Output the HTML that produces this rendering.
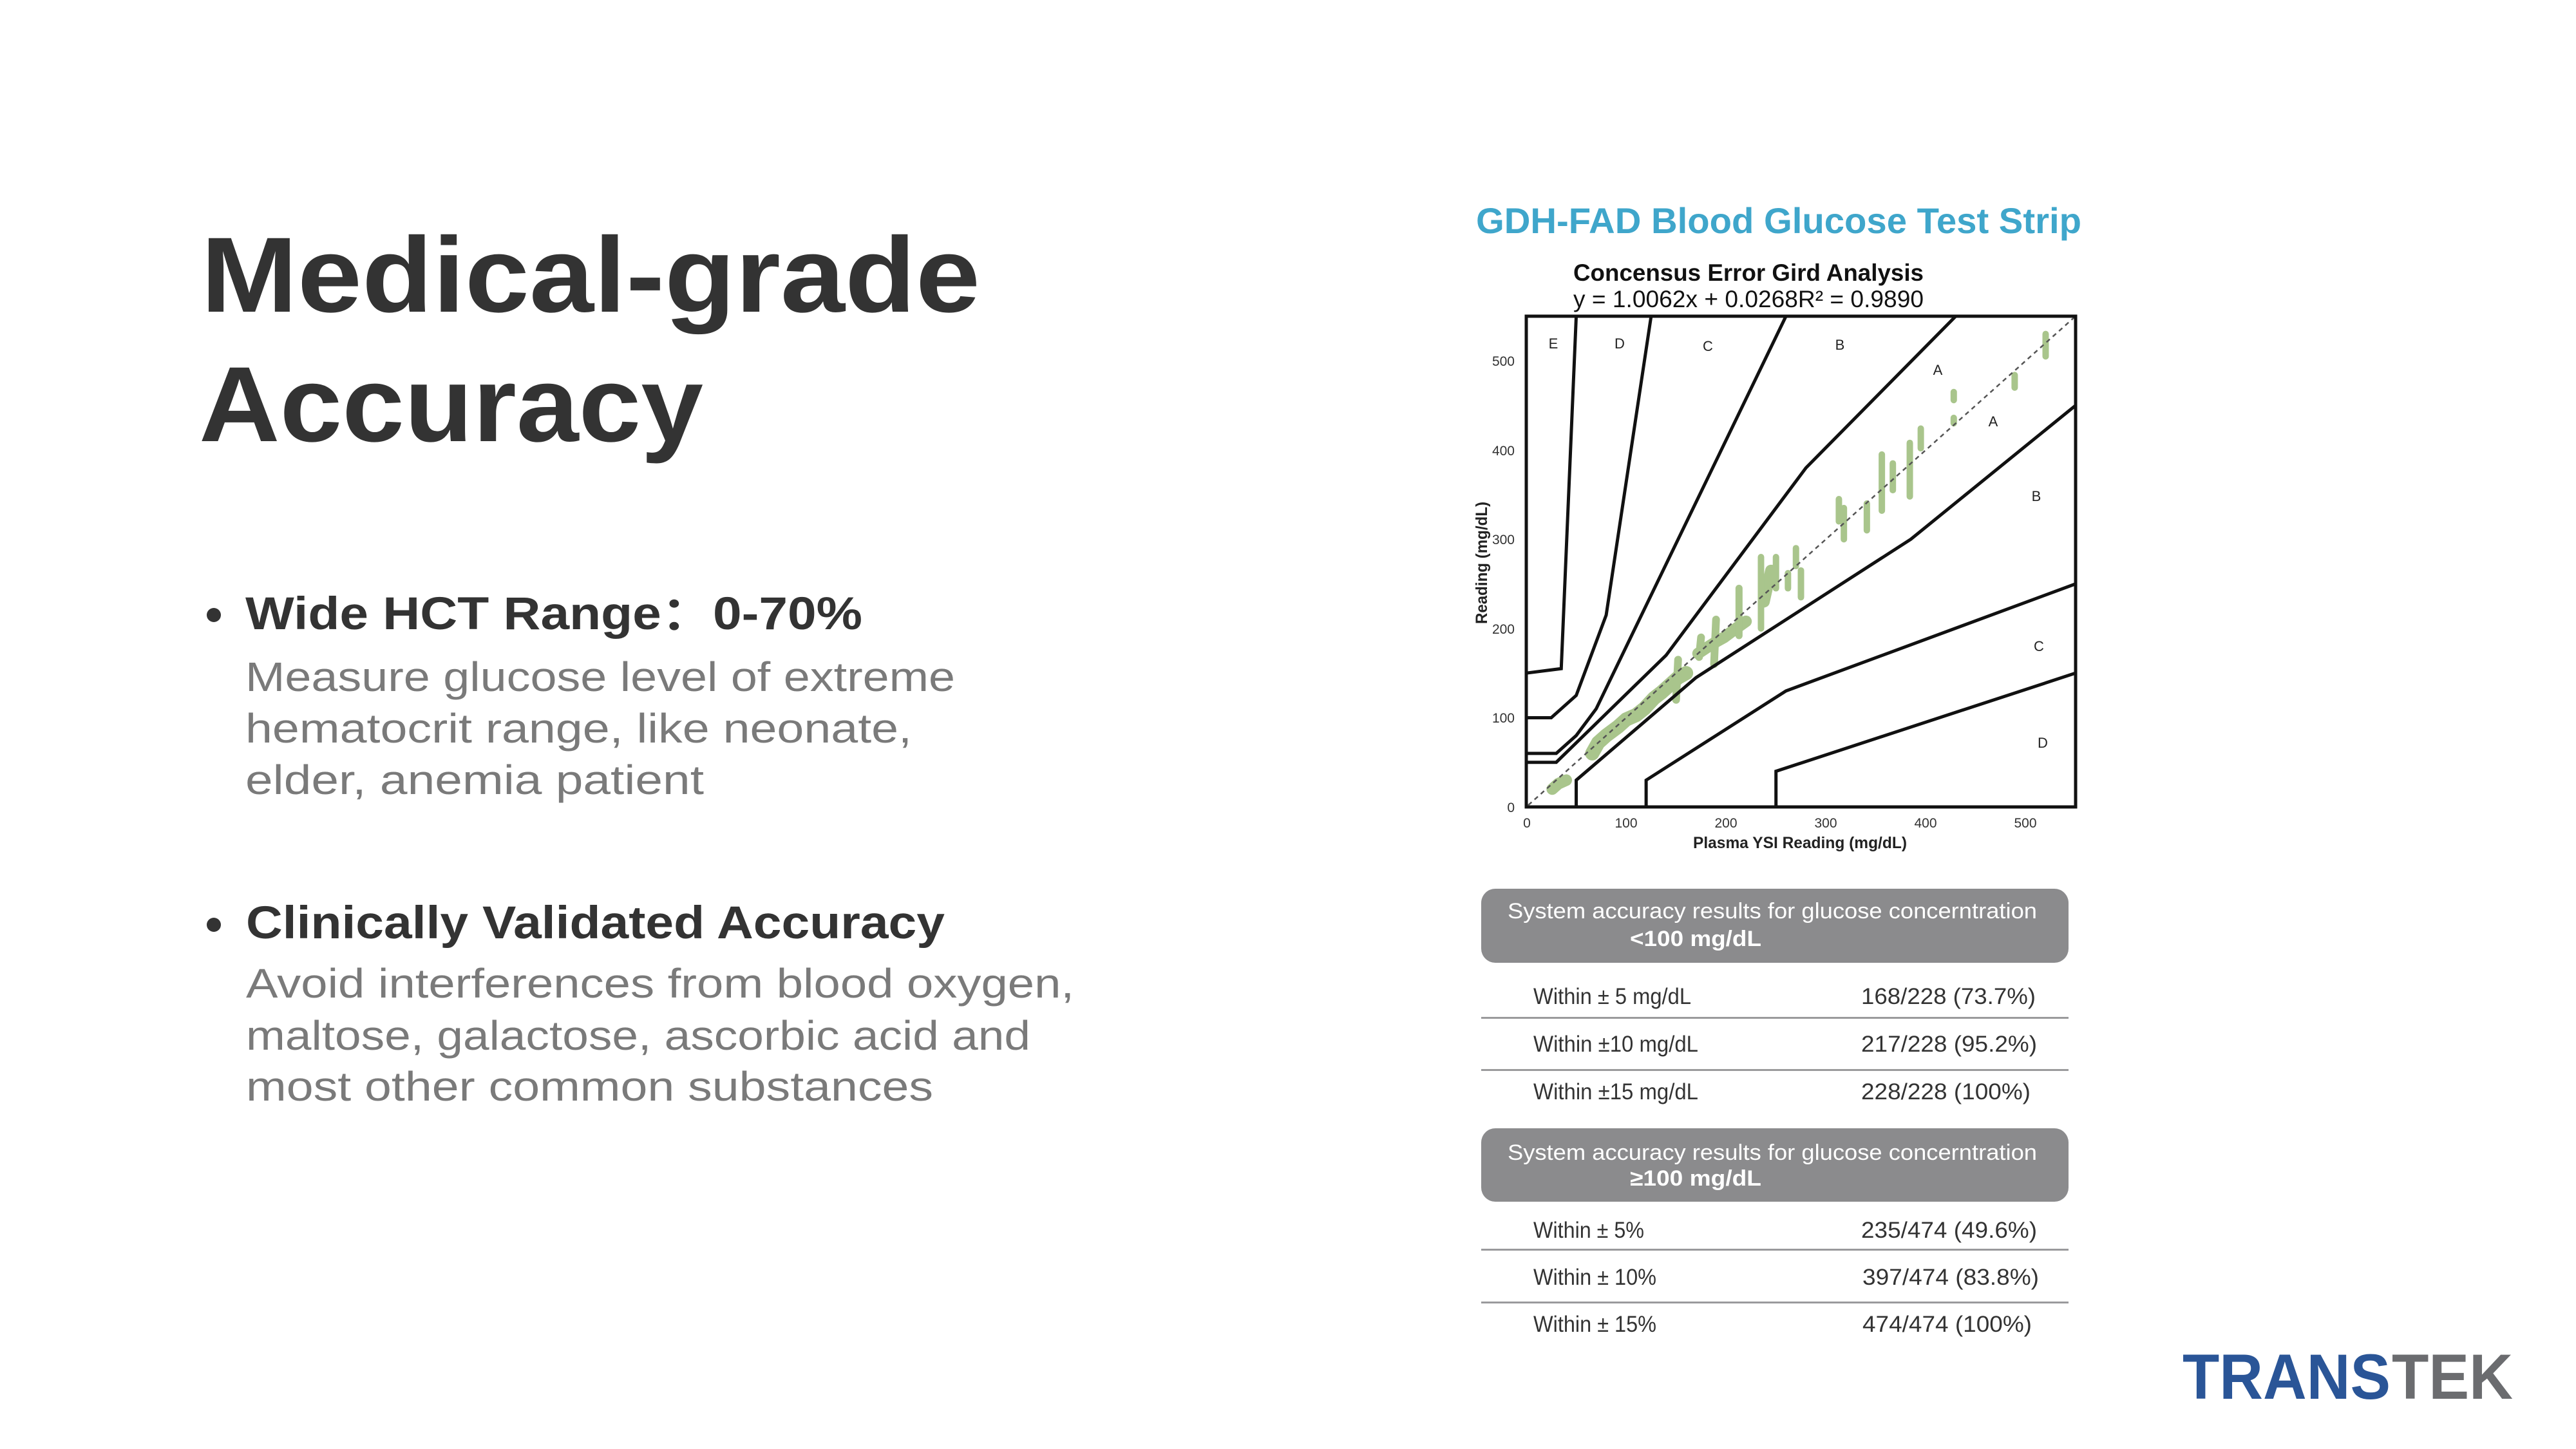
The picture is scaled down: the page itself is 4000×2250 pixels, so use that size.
<!DOCTYPE html>
<html><head><meta charset="utf-8"><style>
html,body{margin:0;padding:0;background:#fff;}
svg{display:block;}
text{font-family:"Liberation Sans",sans-serif;}
</style></head><body>
<svg width="4000" height="2250" viewBox="0 0 4000 2250" xmlns="http://www.w3.org/2000/svg">
<rect width="4000" height="2250" fill="#fff"/>
<text x="312" y="484" font-size="166" font-weight="bold" fill="#333" textLength="1210" lengthAdjust="spacingAndGlyphs">Medical-grade</text>
<text x="309" y="685" font-size="166" font-weight="bold" fill="#333" textLength="783" lengthAdjust="spacingAndGlyphs">Accuracy</text>
<circle cx="332" cy="955" r="11" fill="#333"/>
<text x="381" y="977" font-size="71" font-weight="bold" fill="#333" textLength="958" lengthAdjust="spacingAndGlyphs">Wide HCT Range：0-70%</text>
<text x="381" y="1073" font-size="64" fill="#7a7a7a" textLength="1102" lengthAdjust="spacingAndGlyphs">Measure glucose level of extreme</text>
<text x="381" y="1153" font-size="64" fill="#7a7a7a" textLength="1035" lengthAdjust="spacingAndGlyphs">hematocrit range, like neonate,</text>
<text x="381" y="1233" font-size="64" fill="#7a7a7a" textLength="712" lengthAdjust="spacingAndGlyphs">elder, anemia patient</text>
<circle cx="332" cy="1436" r="11" fill="#333"/>
<text x="382" y="1457" font-size="71" font-weight="bold" fill="#333" textLength="1085" lengthAdjust="spacingAndGlyphs">Clinically Validated Accuracy</text>
<text x="382" y="1549" font-size="64" fill="#7a7a7a" textLength="1286" lengthAdjust="spacingAndGlyphs">Avoid interferences from blood oxygen,</text>
<text x="382" y="1630" font-size="64" fill="#7a7a7a" textLength="1218" lengthAdjust="spacingAndGlyphs">maltose, galactose, ascorbic acid and</text>
<text x="382" y="1709" font-size="64" fill="#7a7a7a" textLength="1067" lengthAdjust="spacingAndGlyphs">most other common substances</text>

<text x="2292" y="362" font-size="56" font-weight="bold" fill="#3fa6cb" textLength="940" lengthAdjust="spacingAndGlyphs">GDH-FAD Blood Glucose Test Strip</text>
<text x="2443" y="436" font-size="37" font-weight="bold" fill="#111" textLength="544" lengthAdjust="spacingAndGlyphs">Concensus Error Gird Analysis</text>
<text x="2443" y="477" font-size="37" fill="#111" textLength="544" lengthAdjust="spacingAndGlyphs">y = 1.0062x + 0.0268R² = 0.9890</text>

<g transform="translate(2370,1253) scale(1.5509,-1.3855)">
  <g fill="none" stroke="#a9c58c" stroke-linecap="round" stroke-linejoin="round">
    <polyline vector-effect="non-scaling-stroke" stroke-width="18" points="26,20 32,26 40,30"/>
    <polyline vector-effect="non-scaling-stroke" stroke-width="22" points="66,60 72,72 80,80 92,90 100,98 110,103 118,110 128,122 135,128 145,138 152,145 160,150"/>
    <polyline vector-effect="non-scaling-stroke" stroke-width="18" points="172,172 180,178 190,185 198,190 210,200 220,208"/>
    <polyline vector-effect="non-scaling-stroke" stroke-width="12" points="150,120 152,165"/>
    <polyline vector-effect="non-scaling-stroke" stroke-width="12" points="188,160 190,210"/>
    <polyline vector-effect="non-scaling-stroke" stroke-width="12" points="173,168 175,190"/>
    <polyline vector-effect="non-scaling-stroke" stroke-width="11" points="213,192 213,245"/>
    <polyline vector-effect="non-scaling-stroke" stroke-width="18" points="238,230 245,265"/>
    <polyline vector-effect="non-scaling-stroke" stroke-width="10" points="235,200 235,280"/>
    <polyline vector-effect="non-scaling-stroke" stroke-width="10" points="250,245 250,280"/>
    <polyline vector-effect="non-scaling-stroke" stroke-width="10" points="262,245 262,262"/>
    <polyline vector-effect="non-scaling-stroke" stroke-width="10" points="270,270 270,290"/>
    <polyline vector-effect="non-scaling-stroke" stroke-width="10" points="275,235 275,265"/>
    <polyline vector-effect="non-scaling-stroke" stroke-width="10" points="313,320 313,345"/>
    <polyline vector-effect="non-scaling-stroke" stroke-width="10" points="318,300 318,335"/>
    <polyline vector-effect="non-scaling-stroke" stroke-width="10" points="341,310 341,340"/>
    <polyline vector-effect="non-scaling-stroke" stroke-width="10" points="356,332 356,395"/>
    <polyline vector-effect="non-scaling-stroke" stroke-width="10" points="367,355 367,385"/>
    <polyline vector-effect="non-scaling-stroke" stroke-width="10" points="384,348 384,408"/>
    <polyline vector-effect="non-scaling-stroke" stroke-width="10" points="395,402 395,424"/>
    <polyline vector-effect="non-scaling-stroke" stroke-width="10" points="428,430 428,436"/>
    <polyline vector-effect="non-scaling-stroke" stroke-width="10" points="428,456 428,465"/>
    <polyline vector-effect="non-scaling-stroke" stroke-width="10" points="489,470 489,484"/>
    <polyline vector-effect="non-scaling-stroke" stroke-width="10" points="520,505 520,530"/>
  </g>
  <line x1="2" y1="2" x2="550" y2="550" stroke="#555" stroke-width="2.5" stroke-dasharray="7,6" vector-effect="non-scaling-stroke"/>
  <g fill="none" stroke="#111" stroke-width="5" stroke-linejoin="miter">
    <polyline vector-effect="non-scaling-stroke" points="0,50 30,50 140,170 280,380 430,550"/>
    <polyline vector-effect="non-scaling-stroke" points="50,0 50,30 170,145 385,300 550,450"/>
    <polyline vector-effect="non-scaling-stroke" points="0,60 30,60 50,80 70,110 260,550"/>
    <polyline vector-effect="non-scaling-stroke" points="120,0 120,30 260,130 550,250"/>
    <polyline vector-effect="non-scaling-stroke" points="0,100 25,100 50,125 80,215 125,550"/>
    <polyline vector-effect="non-scaling-stroke" points="250,0 250,40 550,150"/>
    <polyline vector-effect="non-scaling-stroke" points="0,150 35,155 50,550"/>
  </g>
</g>
<rect x="2370" y="491" width="853" height="762" fill="none" stroke="#111" stroke-width="5"/>

<g font-size="22" fill="#222" text-anchor="middle">
<text x="2412" y="541">E</text>
<text x="2515" y="541">D</text>
<text x="2652" y="545">C</text>
<text x="2857" y="543">B</text>
<text x="3009" y="582">A</text>
<text x="3095" y="662">A</text>
<text x="3162" y="778">B</text>
<text x="3166" y="1011">C</text>
<text x="3172" y="1161">D</text>
</g>
<g font-size="21" fill="#333" text-anchor="end">
<text x="2352" y="1261">0</text>
<text x="2352" y="1122">100</text>
<text x="2352" y="984">200</text>
<text x="2352" y="845">300</text>
<text x="2352" y="707">400</text>
<text x="2352" y="568">500</text>
</g>
<g font-size="21" fill="#333" text-anchor="middle">
<text x="2371" y="1285">0</text>
<text x="2525" y="1285">100</text>
<text x="2680" y="1285">200</text>
<text x="2835" y="1285">300</text>
<text x="2990" y="1285">400</text>
<text x="3145" y="1285">500</text>
</g>
<text x="2795" y="1317" font-size="25" font-weight="bold" fill="#222" text-anchor="middle" textLength="332" lengthAdjust="spacingAndGlyphs">Plasma YSI Reading (mg/dL)</text>
<text transform="translate(2309,874) rotate(-90)" font-size="25" font-weight="bold" fill="#222" text-anchor="middle" textLength="190" lengthAdjust="spacingAndGlyphs">Reading (mg/dL)</text>

<rect x="2300" y="1380" width="912" height="115" rx="22" fill="#8b8b8d"/>
<text x="2341" y="1426" font-size="34" fill="#fff" textLength="822" lengthAdjust="spacingAndGlyphs">System accuracy results for glucose concerntration</text>
<text x="2531" y="1469" font-size="34" font-weight="bold" fill="#fff" textLength="204" lengthAdjust="spacingAndGlyphs">&lt;100 mg/dL</text>
<g font-size="35" fill="#333">
<text x="2381" y="1559" textLength="245" lengthAdjust="spacingAndGlyphs">Within ± 5 mg/dL</text>
<text x="2890" y="1559" textLength="271" lengthAdjust="spacingAndGlyphs">168/228 (73.7%)</text>
<text x="2381" y="1633" textLength="256" lengthAdjust="spacingAndGlyphs">Within ±10 mg/dL</text>
<text x="2890" y="1633" textLength="273" lengthAdjust="spacingAndGlyphs">217/228 (95.2%)</text>
<text x="2381" y="1707" textLength="256" lengthAdjust="spacingAndGlyphs">Within ±15 mg/dL</text>
<text x="2890" y="1707" textLength="263" lengthAdjust="spacingAndGlyphs">228/228 (100%)</text>
</g>
<rect x="2300" y="1579" width="912" height="3" fill="#9a9a9c"/>
<rect x="2300" y="1660" width="912" height="3" fill="#9a9a9c"/>
<rect x="2300" y="1752" width="912" height="114" rx="22" fill="#8b8b8d"/>
<text x="2341" y="1801" font-size="34" fill="#fff" textLength="822" lengthAdjust="spacingAndGlyphs">System accuracy results for glucose concerntration</text>
<text x="2531" y="1841" font-size="34" font-weight="bold" fill="#fff" textLength="204" lengthAdjust="spacingAndGlyphs">≥100 mg/dL</text>
<g font-size="35" fill="#333">
<text x="2381" y="1922" textLength="172" lengthAdjust="spacingAndGlyphs">Within ± 5%</text>
<text x="2890" y="1922" textLength="273" lengthAdjust="spacingAndGlyphs">235/474 (49.6%)</text>
<text x="2381" y="1995" textLength="191" lengthAdjust="spacingAndGlyphs">Within ± 10%</text>
<text x="2892" y="1995" textLength="274" lengthAdjust="spacingAndGlyphs">397/474 (83.8%)</text>
<text x="2381" y="2068" textLength="191" lengthAdjust="spacingAndGlyphs">Within ± 15%</text>
<text x="2892" y="2068" textLength="263" lengthAdjust="spacingAndGlyphs">474/474 (100%)</text>
</g>
<rect x="2300" y="1939" width="912" height="3" fill="#9a9a9c"/>
<rect x="2300" y="2021" width="912" height="3" fill="#9a9a9c"/>

<text x="3389" y="2172" font-size="99" font-weight="bold" fill="#2a5597" textLength="323" lengthAdjust="spacingAndGlyphs">TRANS</text>
<text x="3714" y="2172" font-size="99" font-weight="bold" fill="#6b6c6f" textLength="188" lengthAdjust="spacingAndGlyphs">TEK</text>
</svg>
</body></html>
